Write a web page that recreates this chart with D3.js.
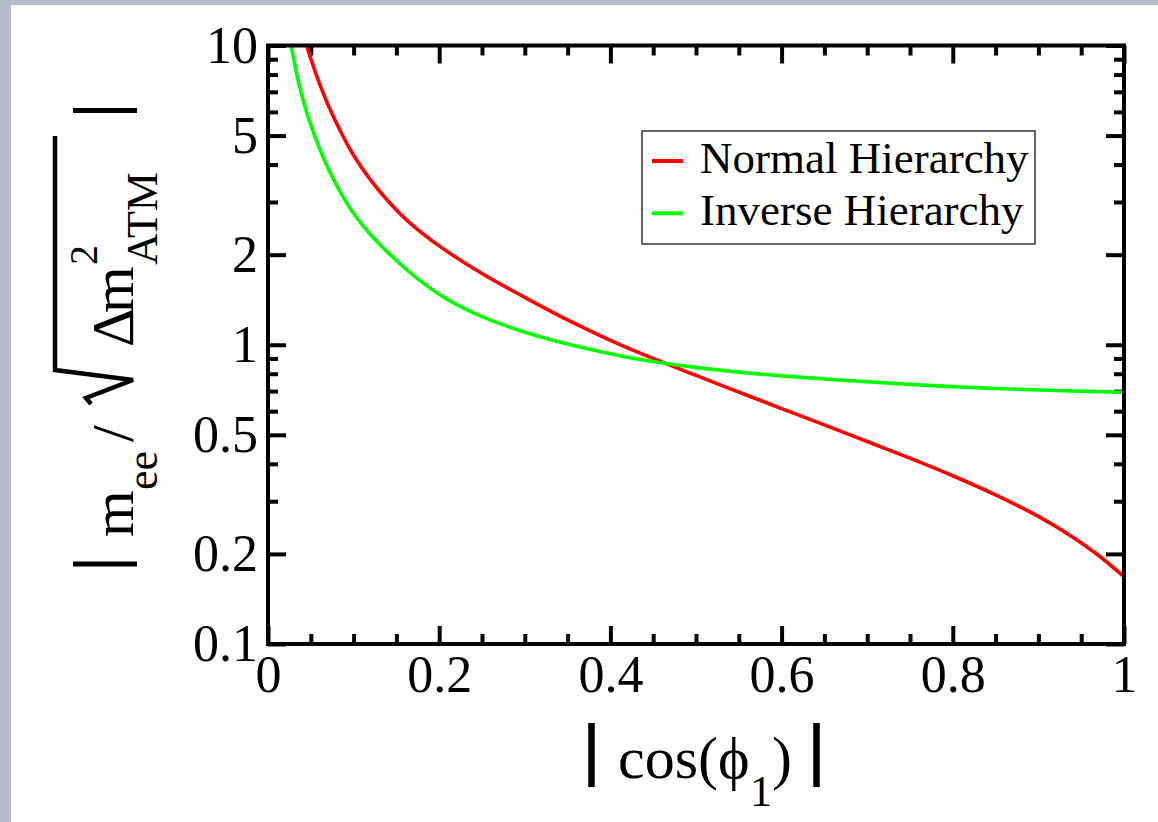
<!DOCTYPE html>
<html>
<head>
<meta charset="utf-8">
<script src="https://cdn.jsdelivr.net/npm/d3@7"></script>
<style>
  html, body { margin: 0; padding: 0; background: #fff; }
  svg { display: block; }
  text { font-family: "Liberation Serif", "Times New Roman", serif; fill: #000; }
</style>
</head>
<body>
<svg id="chart" width="1158" height="822"></svg>
<script>
// |cos(phi_1)| vs |m_ee| / sqrt(dm^2_ATM)
const normalHierarchy = [
  [0.045, 10], [0.057, 7.9], [0.07, 6.35], [0.085, 5.15], [0.1, 4.3],
  [0.12, 3.55], [0.14, 3.03], [0.166, 2.55], [0.2, 2.14], [0.25, 1.73],
  [0.3, 1.44], [0.35, 1.21], [0.4, 1.035], [0.45, 0.9], [0.5, 0.79],
  [0.55, 0.695], [0.6, 0.612], [0.65, 0.54], [0.7, 0.475], [0.75, 0.418],
  [0.8, 0.365], [0.85, 0.315], [0.9, 0.267], [0.94, 0.228], [0.97, 0.198],
  [1.0, 0.168]
];
const inverseHierarchy = [
  [0.027, 10], [0.035, 7.7], [0.045, 6.0], [0.055, 4.95], [0.07, 3.9],
  [0.085, 3.22], [0.1, 2.75], [0.12, 2.33], [0.146, 1.96], [0.175, 1.66],
  [0.205, 1.445], [0.232, 1.31], [0.271, 1.176], [0.31, 1.08], [0.35, 1.005],
  [0.388, 0.95], [0.435, 0.893], [0.5, 0.84], [0.55, 0.81], [0.6, 0.787],
  [0.668, 0.762], [0.75, 0.737], [0.85, 0.714], [0.93, 0.702], [1.0, 0.694]
];
const seriesNames = ["Normal Hierarchy", "Inverse Hierarchy"];
const seriesColors = ["#ff0000", "#00ff00"];
const xTicks = [0, 0.2, 0.4, 0.6, 0.8, 1];
const xMinorTicks = [0.05, 0.1, 0.15, 0.25, 0.3, 0.35, 0.45, 0.5, 0.55, 0.65, 0.7, 0.75, 0.85, 0.9, 0.95];
const yTicks = [0.1, 0.2, 0.5, 1, 2, 5, 10];
const yMinorTicks = [0.3, 0.4, 0.6, 0.7, 0.8, 0.9, 3, 4, 6, 7, 8, 9];

const svg = d3.select("#chart");
const W = 1158, H = 822;
const plotLeft = 268, plotRight = 1124, plotTop = 45.5, plotBottom = 644;

// page frame
svg.append("rect").attr("width", W).attr("height", H).attr("fill", "#fff");
svg.append("rect").attr("width", W).attr("height", 5).attr("fill", "#b4bbcc");
svg.append("rect").attr("width", 11).attr("height", H).attr("fill", "#b4bbcc");

const x = d3.scaleLinear().domain([0, 1]).range([plotLeft, plotRight]);
const y = d3.scaleLog().domain([0.1, 10]).range([plotBottom, plotTop]);

const fmt = d3.format("~g");

function styleAxis(g, size) {
  g.select(".domain").remove();
  g.selectAll(".tick line").attr("stroke", "#000").attr("stroke-width", 4);
  g.selectAll(".tick text").attr("font-size", size).attr("font-family", "Liberation Serif, serif").attr("fill", "#000");
}

// major + minor ticks, inward on all four sides
svg.append("g").attr("transform", `translate(${plotLeft},0)`)
  .call(d3.axisLeft(y).tickValues(yTicks).tickFormat(fmt).tickSize(-18).tickPadding(10))
  .call(g => styleAxis(g, 52));
svg.append("g").attr("transform", `translate(${plotLeft},0)`)
  .call(d3.axisLeft(y).tickValues(yMinorTicks).tickFormat("").tickSize(-10))
  .call(g => styleAxis(g, 0));
svg.append("g").attr("transform", `translate(${plotRight},0)`)
  .call(d3.axisRight(y).tickValues(yTicks).tickFormat("").tickSize(-18))
  .call(g => styleAxis(g, 0));
svg.append("g").attr("transform", `translate(${plotRight},0)`)
  .call(d3.axisRight(y).tickValues(yMinorTicks).tickFormat("").tickSize(-10))
  .call(g => styleAxis(g, 0));

svg.append("g").attr("transform", `translate(0,${plotBottom})`)
  .call(d3.axisBottom(x).tickValues(xTicks).tickFormat(fmt).tickSize(-18).tickPadding(11))
  .call(g => styleAxis(g, 52));
svg.append("g").attr("transform", `translate(0,${plotBottom})`)
  .call(d3.axisBottom(x).tickValues(xMinorTicks).tickFormat("").tickSize(-10))
  .call(g => styleAxis(g, 0));
svg.append("g").attr("transform", `translate(0,${plotTop})`)
  .call(d3.axisTop(x).tickValues(xTicks).tickFormat("").tickSize(-18))
  .call(g => styleAxis(g, 0));
svg.append("g").attr("transform", `translate(0,${plotTop})`)
  .call(d3.axisTop(x).tickValues(xMinorTicks).tickFormat("").tickSize(-10))
  .call(g => styleAxis(g, 0));

// curves
svg.append("clipPath").attr("id", "plot-clip")
  .append("rect").attr("x", plotLeft).attr("y", plotTop)
  .attr("width", plotRight - plotLeft).attr("height", plotBottom - plotTop);

const line = d3.line().x(d => x(d[0])).y(d => y(d[1])).curve(d3.curveCatmullRom.alpha(0.5));
const series = [normalHierarchy, inverseHierarchy];
svg.append("g").attr("clip-path", "url(#plot-clip)")
  .selectAll("path")
  .data(series)
  .join("path")
  .attr("d", line)
  .attr("fill", "none")
  .attr("stroke", (d, i) => seriesColors[i])
  .attr("stroke-width", 3.6);

// frame
svg.append("rect")
  .attr("x", plotLeft).attr("y", plotTop)
  .attr("width", plotRight - plotLeft).attr("height", plotBottom - plotTop)
  .attr("fill", "none").attr("stroke", "#000").attr("stroke-width", 4);

// legend
const legend = svg.append("g");
legend.append("rect")
  .attr("x", 642).attr("y", 131).attr("width", 393).attr("height", 113)
  .attr("fill", "#fff").attr("stroke", "#333").attr("stroke-width", 1.5);
const items = legend.selectAll("g.item").data(seriesNames).join("g").attr("class", "item")
  .attr("transform", (d, i) => `translate(0,${161 + i * 52.3})`);
items.append("line")
  .attr("x1", 652).attr("x2", 683)
  .attr("stroke", (d, i) => seriesColors[i]).attr("stroke-width", 4);
items.append("text")
  .attr("x", 700).attr("y", 11.7)
  .attr("font-size", 45)
  .text(d => d);

// x label: | cos(phi_1) |
const xl = svg.append("g");
xl.append("line").attr("x1", 591.5).attr("x2", 591.5).attr("y1", 723).attr("y2", 787)
  .attr("stroke", "#000").attr("stroke-width", 6.5);
xl.append("line").attr("x1", 816.5).attr("x2", 816.5).attr("y1", 723).attr("y2", 787)
  .attr("stroke", "#000").attr("stroke-width", 6.5);
xl.append("text").attr("x", 618).attr("y", 778).attr("font-size", 60).text("cos(\u03D5");
xl.append("text").attr("x", 750).attr("y", 806).attr("font-size", 44).text("1");
xl.append("text").attr("x", 772).attr("y", 778).attr("font-size", 60).text(")");

// y label: | m_ee / sqrt(Δm^2_ATM) |  (rotated, reads upward)
const yl = svg.append("g").attr("transform", "translate(133,564) rotate(-90)");
yl.append("line").attr("x1", 0).attr("x2", 0).attr("y1", -60).attr("y2", 4)
  .attr("stroke", "#000").attr("stroke-width", 5);
yl.append("line").attr("x1", 453.5).attr("x2", 453.5).attr("y1", -60).attr("y2", 4)
  .attr("stroke", "#000").attr("stroke-width", 5);
yl.append("text").attr("x", 27).attr("y", 0).attr("font-size", 60).text("m");
yl.append("text").attr("x", 74).attr("y", 24).attr("font-size", 44).text("ee");
yl.append("text").attr("x", 122).attr("y", 0).attr("font-size", 60).text("/");
yl.append("path")
  .attr("d", "M160,-42 L166,-47 L184,0 L194,-78 L428,-78")
  .attr("fill", "none").attr("stroke", "#000").attr("stroke-width", 4.5)
  .attr("stroke-linejoin", "miter");
yl.append("text").attr("x", 217).attr("y", 0).attr("font-size", 60).text("\u0394");
yl.append("text").attr("x", 251).attr("y", 0).attr("font-size", 60).text("m");
yl.append("text").attr("x", 299).attr("y", -36).attr("font-size", 40).text("2");
yl.append("text").attr("x", 299).attr("y", 24).attr("font-size", 44).text("ATM");
</script>
</body>
</html>
